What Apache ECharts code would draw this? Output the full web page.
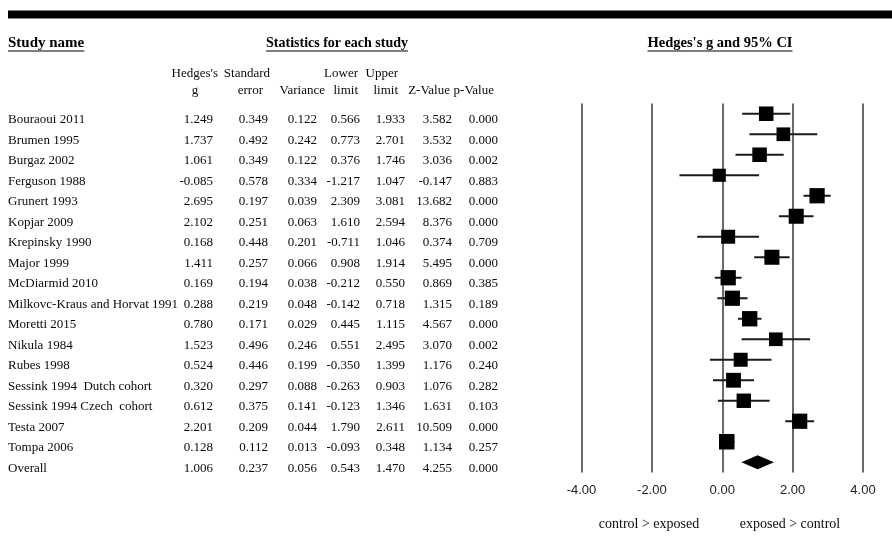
<!DOCTYPE html>
<html><head><meta charset="utf-8">
<script src="https://cdn.jsdelivr.net/npm/echarts@6/dist/echarts.min.js"></script>
<style>html,body{margin:0;padding:0;background:#fff}#c{width:892px;height:555px}</style>
</head><body><div id="c"></div>
<script>
const studies = ['Bouraoui 2011','Brumen 1995','Burgaz 2002','Ferguson 1988','Grunert 1993','Kopjar 2009','Krepinsky 1990','Major 1999','McDiarmid 2010','Milkovc-Kraus and Horvat 1991','Moretti 2015','Nikula 1984','Rubes 1998','Sessink 1994  Dutch cohort','Sessink 1994 Czech  cohort','Testa 2007','Tompa 2006','Overall'];
const hedgesG  = [1.249,1.737,1.061,-0.085,2.695,2.102,0.168,1.411,0.169,0.288,0.780,1.523,0.524,0.320,0.612,2.201,0.128,1.006];
const stdError = [0.349,0.492,0.349,0.578,0.197,0.251,0.448,0.257,0.194,0.219,0.171,0.496,0.446,0.297,0.375,0.209,0.112,0.237];
const variance = [0.122,0.242,0.122,0.334,0.039,0.063,0.201,0.066,0.038,0.048,0.029,0.246,0.199,0.088,0.141,0.044,0.013,0.056];
const lowerLimit = [0.566,0.773,0.376,-1.217,2.309,1.610,-0.711,0.908,-0.212,-0.142,0.445,0.551,-0.350,-0.263,-0.123,1.790,-0.093,0.543];
const upperLimit = [1.933,2.701,1.746,1.047,3.081,2.594,1.046,1.914,0.550,0.718,1.115,2.495,1.399,0.903,1.346,2.611,0.348,1.470];
const zValue = [3.582,3.532,3.036,-0.147,13.682,8.376,0.374,5.495,0.869,1.315,4.567,3.070,1.176,1.076,1.631,10.509,1.134,4.255];
const pValue = [0.000,0.000,0.002,0.883,0.000,0.000,0.709,0.000,0.385,0.189,0.000,0.002,0.240,0.282,0.103,0.000,0.257,0.000];
const xTicks = [-4,-2,0,2,4];
const xLabelLeft = 'control > exposed';
const xLabelRight = 'exposed > control';

const SERIF = "'Liberation Serif', 'Times New Roman', serif";
const SANS = "'Liberation Sans', Arial, sans-serif";
const TXT = '#0a0a0a';

const gridLeft = 581.5, gridTop = 103.5, gridW = 281.5, gridH = 369;
const nRows = studies.length;
const rowIdx = studies.map((_, i) => i);

// marker size from relative weight (styling only)
const tau2 = 0.8;
const wts = variance.slice(0, nRows - 1).map(v => 1 / (v + tau2));
const wMax = Math.max(...wts);
const sizes = wts.map(w => 15.5 * Math.sqrt(w / wMax));

function fmt(v) { return v.toFixed(3); }

// table columns: [values, right edge x]
const columns = [
  [hedgesG, 213], [stdError, 268], [variance, 317], [lowerLimit, 360],
  [upperLimit, 405], [zValue, 452], [pValue, 498]
];

const labelBase = { margin: 0, fontFamily: SERIF, fontSize: 13, color: TXT, verticalAlign: 'top', lineHeight: 12, interval: 0 };
const yAxes = [{
  type: 'category', data: studies, inverse: true, gridIndex: 0, position: 'left',
  offset: gridLeft - 8,
  axisLine: { show: false }, axisTick: { show: false }, splitLine: { show: false },
  axisLabel: Object.assign({ align: 'left' }, labelBase)
}];
columns.forEach(([vals, xr]) => {
  yAxes.push({
    type: 'category', data: vals.map(fmt), inverse: true, gridIndex: 0, position: 'left',
    offset: gridLeft - xr,
    axisLine: { show: false }, axisTick: { show: false }, splitLine: { show: false },
    axisLabel: Object.assign({ align: 'right' }, labelBase)
  });
});

const forestData = rowIdx.map(i => [hedgesG[i], i, lowerLimit[i], upperLimit[i], i === nRows - 1 ? 0 : sizes[i]]);

function renderItem(params, api) {
  const i = api.value(1);
  const c = api.coord([api.value(0), i]);
  const l = api.coord([api.value(2), i]);
  const u = api.coord([api.value(3), i]);
  if (i === nRows - 1) {
    const h = 7;
    return {
      type: 'polygon',
      shape: { points: [[l[0], c[1]], [c[0], c[1] - h], [u[0], c[1]], [c[0], c[1] + h]] },
      style: { fill: '#000' }
    };
  }
  const s = api.value(4);
  return {
    type: 'group',
    children: [
      { type: 'line', shape: { x1: l[0], y1: c[1], x2: u[0], y2: c[1] }, style: { stroke: '#1a1a1a', lineWidth: 2 } },
      { type: 'rect', shape: { x: c[0] - s / 2, y: c[1] - s / 2, width: s, height: s }, style: { fill: '#000' } }
    ]
  };
}

// header text widths for underline
const cv = document.createElement('canvas').getContext('2d');
function tw(text, font) { cv.font = font; return cv.measureText(text).width; }

const headers = [
  { text: 'Study name', x: 8, align: 'left', size: 15 },
  { text: 'Statistics for each study', x: 337, align: 'center', size: 14 },
  { text: "Hedges's g and 95% CI", x: 720, align: 'center', size: 14.5 }
];
const graphics = [
  { type: 'rect', shape: { x: 8, y: 10.5, width: 884, height: 8 }, style: { fill: '#000' } }
];
headers.forEach(h => {
  const font = 'bold ' + h.size + 'px ' + SERIF;
  const w = tw(h.text, font);
  const x0 = h.align === 'left' ? h.x : h.x - w / 2;
  graphics.push({ type: 'text', x: h.x, y: 43, style: { text: h.text, font, fill: '#000', align: h.align, verticalAlign: 'middle' } });
  graphics.push({ type: 'line', shape: { x1: x0, y1: 51, x2: x0 + w, y2: 51 }, style: { stroke: '#000', lineWidth: 1 } });
});
const colHdrFont = '13px ' + SERIF;
const colHeaders = [
  ["Hedges's", 218, 72, 'right'], ['g', 195, 89, 'center'],
  ['Standard', 270, 72, 'right'], ['error', 263, 89, 'right'],
  ['Variance', 325, 89, 'right'],
  ['Lower', 358, 72, 'right'], ['limit', 358, 89, 'right'],
  ['Upper', 398, 72, 'right'], ['limit', 398, 89, 'right'],
  ['Z-Value', 450, 89, 'right'], ['p-Value', 494, 89, 'right']
];
colHeaders.forEach(([t, x, y, a]) => {
  graphics.push({ type: 'text', x, y: y + 1.5, style: { text: t, font: colHdrFont, fill: TXT, align: a, verticalAlign: 'middle' } });
});
const botFont = '14px ' + SERIF;
graphics.push({ type: 'text', x: 649, y: 524, style: { text: xLabelLeft, font: botFont, fill: TXT, align: 'center', verticalAlign: 'middle' } });
graphics.push({ type: 'text', x: 790, y: 524, style: { text: xLabelRight, font: botFont, fill: TXT, align: 'center', verticalAlign: 'middle' } });

const chart = echarts.init(document.getElementById('c'), null, { renderer: 'canvas' });
chart.setOption({
  backgroundColor: '#fff',
  animation: false,
  grid: [{ left: gridLeft, top: gridTop, width: gridW, height: gridH, containLabel: false }],
  xAxis: [{
    type: 'value', gridIndex: 0, min: xTicks[0], max: xTicks[xTicks.length - 1], interval: 2,
    axisLine: { show: false }, axisTick: { show: false },
    splitLine: { show: true, showMinLine: true, showMaxLine: true, lineStyle: { color: '#444', width: 1.6 } },
    axisLabel: { formatter: v => v.toFixed(2), fontFamily: SANS, fontSize: 13, color: '#222', margin: 11 }
  }],
  yAxis: yAxes,
  series: [{
    type: 'custom', xAxisIndex: 0, yAxisIndex: 0, renderItem, data: forestData,
    encode: { x: [0, 2, 3], y: 1 }, clip: false
  }],
  graphic: graphics
});
</script></body></html>
